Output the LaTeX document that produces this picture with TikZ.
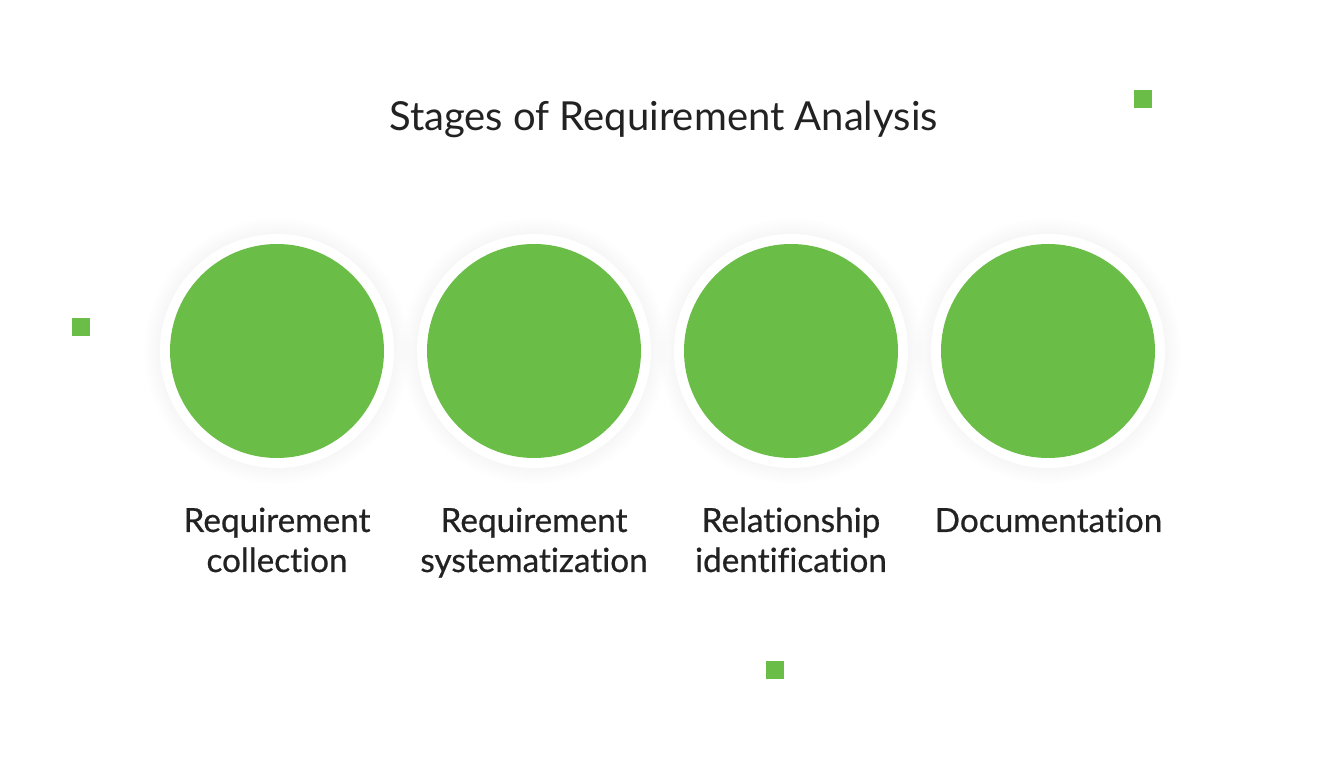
\documentclass[tikz,border=0pt]{standalone}
\usepackage{fontspec}
\setmainfont{Lato}[Ligatures=NoCommon]
\newfontfamily\labelfont{Lato}[Ligatures=NoCommon, FakeBold=0.6]
\definecolor{leaf}{HTML}{6ABD46}
\definecolor{ink}{HTML}{222222}
\tikzset{
  stagedisc/.style={circle, fill=leaf, minimum size=214pt, inner sep=0pt},
  stagelabel/.style={font=\labelfont\fontsize{33.3}{40}\selectfont, text=ink, align=center, anchor=base, inner sep=0pt},
  marker/.style={fill=leaf, minimum size=18pt, inner sep=0pt},
}
\begin{document}
\begin{tikzpicture}[x=1pt,y=1pt]
\fill[white] (0,0) rectangle (1325,769);
\useasboundingbox (0,0) rectangle (1325,769);
% title
\node[font=\fontsize{40}{46}\selectfont, text=ink, anchor=base, inner sep=0pt] (title) at (663.5,638) {Stages of Requirement Analysis};
% shadows and rings
\foreach \cx in {277,534,791,1048}{
  \foreach \r in {133,131,...,117}{
    \fill[black, opacity=0.005] (\cx,418) circle (\r);
  }
}
\foreach \cx in {277,534,791,1048}{
  \fill[white] (\cx,418) circle (117);
}
% discs
\node[stagedisc] (s1) at (277,418) {};
\node[stagedisc] (s2) at (534,418) {};
\node[stagedisc] (s3) at (791,418) {};
\node[stagedisc] (s4) at (1048,418) {};
% labels (anchor=base is the last line's baseline)
\node[stagelabel] (l1) at (277,197) {Requirement\\collection};
\node[stagelabel] (l2) at (534,197) {Requirement\\systematization};
\node[stagelabel] (l3) at (791,197) {Relationship\\identification};
\node[stagelabel] (l4) at (1048.5,237) {Documentation};
% decorative squares
\node[marker] (m1) at (1143,670) {};
\node[marker] (m2) at (81,442) {};
\node[marker] (m3) at (775,99) {};
\end{tikzpicture}
\end{document}
